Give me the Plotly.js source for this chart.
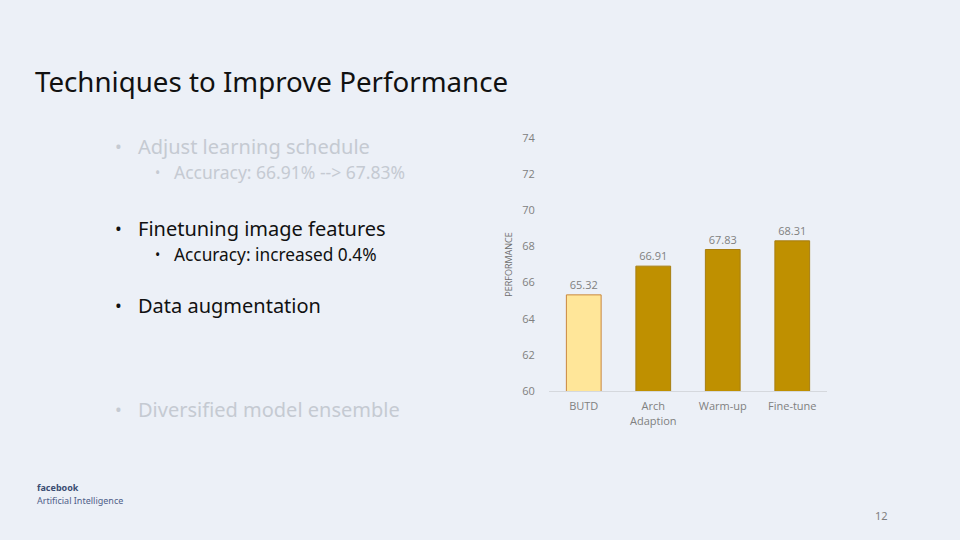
<!DOCTYPE html>
<html>
<head>
<meta charset="utf-8">
<script src="https://cdn.plot.ly/plotly-3.0.1.min.js"></script>
<style>html,body{margin:0;padding:0;background:#ECF0F7;}#chart{width:960px;height:540px;}</style>
</head>
<body>
<div id="chart"></div>
<script>
var categories = ["BUTD", "Arch<br>Adaption", "Warm-up", "Fine-tune"];
var performance = [65.32, 66.91, 67.83, 68.31];
var valueLabels = ["65.32", "66.91", "67.83", "68.31"];
var yTicks = [60, 62, 64, 66, 68, 70, 72, 74];
var barColors = ["#FFE699", "#BF9000", "#BF9000", "#BF9000"];
var barBorders = ["#C9873E", "#A77E12", "#A77E12", "#A77E12"];

var L = 549, R = 827, T = 138, B = 391;
function px(x){ return (x - L) / (R - L); }
function py(y){ return (B - y) / (B - T); }

var faded = "#C5CAD2";
var dark = "#111111";
var bodyFont = "Noto Sans";

function ann(text, x, y, size, color, extra){
  var a = {text: text, x: px(x), y: py(y), xref: "paper", yref: "paper",
    xanchor: "left", yanchor: "middle", showarrow: false,
    font: {family: bodyFont, size: size, color: color}};
  if (extra) for (var k in extra) a[k] = extra[k];
  return a;
}

var annotations = [
  ann("Techniques to Improve Performance", 33, 81, 27.7, "#111111"),
  ann("•", 113, 146, 18, faded), ann("Adjust learning schedule", 136, 146, 20, faded),
  ann("•", 153, 172, 14, faded), ann("Accuracy: 66.91% --> 67.83%", 172, 172, 17.5, faded),
  ann("•", 113, 228, 18, dark), ann("Finetuning image features", 136, 228, 20, dark),
  ann("•", 153, 254, 14, dark), ann("Accuracy: increased 0.4%", 172, 254, 17.3, dark),
  ann("•", 113, 305, 18, dark), ann("Data augmentation", 136, 305, 20, dark),
  ann("•", 113, 409, 18, faded), ann("Diversified model ensemble", 136, 409, 20, faded),
  ann("<b>facebook</b>", 35, 487, 9, "#3A4C72"),
  ann("Artificial Intelligence", 35, 500, 9, "#4F6089"),
  ann("12", 873, 515, 11, "#7F7F7F")
];

var trace = {
  type: "bar",
  x: categories,
  y: performance,
  text: valueLabels,
  textposition: "outside",
  textfont: {family: "Open Sans", size: 11, color: "#808080"},
  cliponaxis: false,
  marker: {color: barColors, line: {color: barBorders, width: 1}},
  hoverinfo: "none"
};

var layout = {
  width: 960, height: 540,
  paper_bgcolor: "#ECF0F7", plot_bgcolor: "#ECF0F7",
  margin: {l: L, r: 960 - R, t: T, b: 540 - B, pad: 0},
  showlegend: false,
  bargap: 0.5,
  xaxis: {
    showline: true, linecolor: "#D5D8DD", linewidth: 1,
    showgrid: false, zeroline: false,
    ticks: "outside", ticklen: 5, tickcolor: "rgba(0,0,0,0)",
    tickfont: {family: "Open Sans", size: 11, color: "#808080"},
    automargin: false
  },
  yaxis: {
    range: [60, 74], tickvals: yTicks, showgrid: false, zeroline: false,
    showline: false, ticks: "outside", ticklen: 11, tickcolor: "rgba(0,0,0,0)",
    tickfont: {family: "Open Sans", size: 11, color: "#808080"},
    title: {text: "PERFORMANCE", font: {family: "Open Sans", size: 9, color: "#6E6E6E"}, standoff: 8},
    automargin: false
  },
  annotations: annotations
};

Plotly.newPlot("chart", [trace], layout, {staticPlot: true, displayModeBar: false});
</script>
</body>
</html>
